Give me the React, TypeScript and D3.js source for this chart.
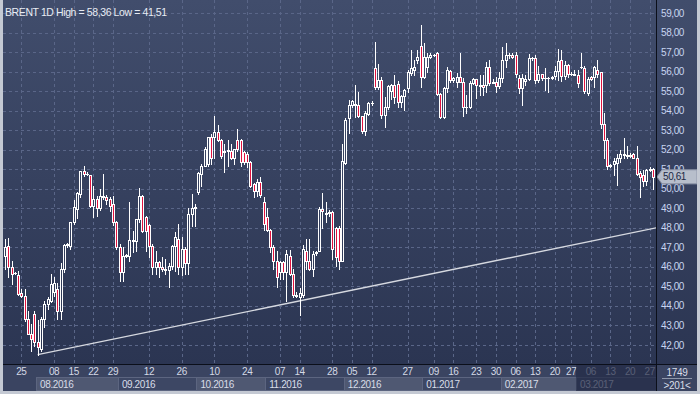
import React from "react";
import * as d3 from "d3";

// daily BRENT candles
const opens = [
  46.57, 47.05, 45.98, 45.7, 45.6, 44.65, 44.53, 43.33, 42.57, 43.59,
  42.17, 41.8, 43.33, 44.1, 44.27, 44.7, 44.87, 43.76, 45.9, 47.1,
  47.05, 48.28, 48.97, 49.73, 50.9, 50.76, 50.7, 49.14, 49.48, 49.02,
  49.6, 49.6, 49.48, 49.2, 48.28, 47.0, 45.72, 46.57, 46.57, 47.4,
  47.34, 48.45, 49.65, 48.54, 48.16, 47.09, 45.98, 46.27, 45.98, 45.9,
  45.86, 46.07, 47.09, 47.43, 45.98, 46.92, 46.18, 48.7, 49.0, 49.82,
  50.76, 51.18, 51.27, 52.63, 52.63, 52.89, 52.5, 51.9, 51.95, 51.92,
  51.6, 52.5, 52.5, 51.87, 51.78, 51.35, 50.25, 49.9, 50.36, 49.34,
  48.57, 47.9, 47.0, 46.32, 45.75, 46.24, 45.75, 46.58, 45.64, 44.55,
  44.47, 44.55, 46.83, 46.32, 45.9, 46.7, 46.83, 48.96, 48.7, 48.75,
  48.8, 48.0, 48.0, 46.32, 51.3, 53.64, 54.3, 54.3, 54.3, 53.72,
  52.97, 53.85, 54.4, 56.17, 55.2, 55.58, 53.77, 54.2, 55.0, 55.31,
  55.37, 54.46, 54.75, 55.14, 55.91, 56.08, 56.59, 57.31, 55.74, 56.25,
  56.76, 56.85, 56.97, 54.85, 53.66, 55.14, 56.05, 55.57, 55.48, 55.71,
  55.48, 54.17, 54.17, 55.43, 55.6, 55.26, 55.31, 55.31, 56.22, 55.43,
  55.48, 55.26, 55.66, 56.59, 56.85, 56.87, 56.85, 55.66, 55.14, 55.5,
  55.6, 56.68, 56.7, 55.57, 55.88, 55.65, 55.65, 55.68, 55.76, 56.04,
  56.6, 55.78, 56.35, 55.9, 55.9, 55.85, 56.23, 56.2, 54.9, 55.7,
  55.72, 56.1, 56.0, 53.3, 52.5, 51.15, 51.25, 51.3, 51.6, 51.75,
  51.7, 51.75, 51.8, 51.6, 50.8, 50.7, 50.4, 50.95, 51.0,
];
const highs = [
  47.43, 47.5, 46.3, 45.75, 45.8, 44.87, 44.87, 43.73, 43.08, 43.73,
  43.28, 43.42, 44.27, 44.44, 45.64, 45.5, 45.2, 46.2, 47.17, 47.2,
  48.28, 49.4, 49.82, 50.93, 51.18, 50.85, 50.71, 50.16, 49.65, 49.99,
  50.76, 49.7, 49.56, 49.65, 48.37, 47.17, 47.0, 46.65, 49.3, 47.85,
  48.45, 50.04, 49.7, 48.6, 48.2, 47.15, 46.83, 46.32, 46.5, 46.4,
  46.18, 47.12, 47.77, 48.2, 47.55, 47.0, 49.02, 49.73, 49.2, 50.84,
  51.27, 52.12, 52.66, 52.8, 53.74, 53.28, 52.55, 52.3, 52.5, 52.3,
  52.06, 53.06, 52.55, 51.95, 51.87, 51.4, 50.3, 50.5, 50.61, 49.6,
  49.0, 47.95, 47.1, 46.83, 46.32, 46.32, 46.85, 46.85, 45.9, 44.7,
  44.9, 47.1, 47.43, 47.43, 46.83, 46.83, 49.05, 49.8, 49.3, 48.9,
  48.88, 48.05, 48.1, 52.3, 53.64, 54.54, 54.54, 55.32, 54.97, 53.75,
  54.0, 54.45, 54.5, 57.5, 56.4, 55.7, 54.7, 55.3, 55.35, 55.83,
  55.5, 54.8, 55.1, 56.08, 57.1, 56.59, 57.1, 58.36, 57.48, 56.94,
  56.94, 56.9, 57.0, 54.9, 55.23, 56.25, 56.08, 55.74, 55.91, 56.94,
  55.66, 54.8, 55.5, 55.66, 55.62, 55.83, 55.83, 56.5, 56.59, 55.6,
  55.74, 56.0, 57.28, 57.45, 56.95, 56.95, 57.0, 55.83, 55.9, 55.8,
  56.9, 56.75, 56.85, 56.3, 55.9, 56.17, 55.7, 55.75, 56.3, 57.14,
  57.1, 56.55, 56.4, 56.0, 56.1, 56.1, 56.96, 56.3, 55.7, 55.75,
  56.3, 56.6, 56.0, 53.9, 52.6, 51.25, 51.6, 51.78, 52.0, 52.6,
  52.2, 51.85, 51.85, 52.2, 50.9, 50.95, 51.0, 51.1, 51.05,
];
const lows = [
  45.9, 45.47, 45.13, 45.65, 44.58, 44.44, 43.25, 42.55, 41.71, 41.97,
  41.51, 41.71, 42.9, 43.85, 44.2, 44.5, 43.33, 43.33, 45.72, 47.0,
  46.92, 48.2, 48.5, 49.56, 50.67, 50.68, 49.05, 48.54, 48.62, 48.9,
  49.5, 49.2, 48.88, 48.16, 46.92, 45.3, 45.3, 46.5, 46.3, 46.75,
  46.83, 48.28, 47.77, 46.83, 46.5, 45.64, 45.64, 45.47, 45.8, 45.64,
  44.99, 45.9, 45.81, 45.64, 45.6, 45.64, 45.64, 48.11, 48.11, 49.73,
  50.16, 51.15, 51.18, 51.27, 51.6, 52.46, 51.6, 50.84, 51.18, 51.5,
  51.27, 51.95, 51.18, 51.27, 51.1, 50.07, 49.56, 49.65, 49.6, 47.9,
  47.85, 46.75, 45.9, 44.99, 45.4, 45.4, 44.27, 45.6, 44.44, 44.44,
  43.54, 44.47, 45.9, 45.85, 45.55, 46.6, 46.8, 48.0, 48.3, 48.6,
  46.4, 46.07, 45.9, 46.3, 51.25, 52.83, 54.2, 53.7, 53.67, 52.83,
  52.75, 53.8, 54.3, 55.1, 55.1, 53.6, 53.15, 54.06, 54.6, 54.38,
  54.2, 54.2, 54.03, 54.97, 55.85, 55.83, 56.42, 55.23, 55.66, 56.0,
  56.7, 56.8, 54.8, 53.61, 53.61, 54.97, 55.48, 55.48, 55.23, 55.46,
  53.73, 53.86, 54.15, 55.35, 54.63, 54.8, 54.8, 54.97, 55.31, 55.4,
  54.97, 55.14, 55.48, 56.25, 56.7, 56.7, 55.74, 54.89, 54.28, 55.3,
  55.57, 56.6, 55.4, 55.47, 55.55, 55.07, 54.93, 55.6, 55.62, 55.55,
  55.5, 55.6, 55.7, 55.8, 55.8, 55.2, 56.2, 54.9, 54.8, 55.55,
  55.2, 55.7, 53.1, 51.6, 51.0, 51.1, 50.7, 50.2, 51.35, 51.6,
  51.6, 51.65, 51.55, 50.7, 49.6, 50.13, 50.2, 50.9, 50.0,
];
const closes = [
  47.0, 45.98, 45.64, 45.69, 44.6, 44.53, 43.33, 42.57, 42.31, 42.14,
  41.92, 43.33, 44.1, 44.36, 45.13, 45.2, 43.76, 45.9, 47.14, 47.17,
  48.28, 49.05, 49.77, 50.9, 50.76, 50.74, 49.14, 49.48, 49.02, 49.65,
  49.65, 49.4, 49.14, 48.28, 47.0, 45.72, 46.57, 46.6, 47.4, 47.3,
  48.45, 49.65, 47.85, 47.82, 47.09, 45.98, 46.27, 45.98, 45.9, 45.86,
  46.07, 47.09, 47.52, 45.98, 46.92, 46.18, 48.7, 49.02, 49.05, 50.79,
  51.18, 52.04, 52.63, 51.6, 52.89, 52.5, 51.7, 51.95, 51.97, 51.6,
  52.04, 52.04, 51.35, 51.35, 51.35, 50.16, 49.9, 50.33, 49.68, 48.2,
  47.9, 47.0, 46.32, 45.47, 46.24, 45.75, 46.66, 45.64, 44.54, 44.5,
  44.65, 46.92, 46.32, 45.9, 46.66, 46.75, 48.96, 48.88, 48.75, 48.8,
  46.92, 46.5, 46.32, 51.44, 53.5, 54.3, 54.5, 54.33, 53.72, 52.97,
  53.9, 54.38, 54.38, 55.19, 55.58, 53.77, 54.2, 55.26, 55.31, 54.68,
  54.46, 54.75, 55.06, 56.0, 56.17, 56.22, 56.76, 55.74, 56.76, 56.76,
  56.85, 56.86, 54.85, 53.66, 55.14, 56.08, 55.57, 55.66, 55.71, 55.48,
  54.17, 54.2, 55.43, 55.6, 55.3, 55.31, 55.23, 56.22, 55.43, 55.48,
  55.26, 55.66, 56.59, 56.85, 56.87, 56.76, 55.88, 55.14, 55.65, 55.6,
  56.68, 56.7, 55.57, 55.89, 55.66, 55.68, 55.68, 55.7, 56.04, 56.56,
  55.76, 56.35, 55.9, 55.88, 55.85, 55.44, 56.26, 55.0, 55.6, 55.6,
  56.23, 55.9, 53.3, 52.5, 51.17, 51.2, 51.4, 51.6, 51.8, 51.8,
  51.75, 51.7, 51.6, 50.75, 50.6, 50.4, 50.95, 51.0, 50.61,
];

const priceTicks = [42, 43, 44, 45, 46, 47, 48, 49, 50, 51, 52, 53, 54, 55, 56, 57, 58, 59];

// week labels and the bar each one sits on
const dayTickLabels = ["25", "08", "15", "22", "29", "12", "26", "10", "24", "07", "14", "28", "05", "12", "27", "09", "16", "23", "30", "06", "13", "20", "27", "06", "13", "20", "27"];
const dayTickBars = [5, 15, 21, 27, 33, 44, 54, 64, 74, 84, 90, 100, 106, 112, 123, 131, 137, 144, 150, 156, 162, 168, 173, 179, 185, 191, 197];

const monthLabels = ["08.2016", "09.2016", "10.2016", "11.2016", "12.2016", "01.2017", "02.2017", "03.2017"];
const monthStartBars = [10, 35, 59, 80, 104, 128, 152, 175];

// support line drawn from the August low
const trendBars = [10, 199];
const trendPrices = [41.51, 48.0];

const lastPrice = 50.61;
const title = "BRENT 1D High = 58,36 Low = 41,51";
const counterTop = "1749";
const counterBottom = ">201<";

const W = 700;
const H = 394;
const plotLeft = 3;
const plotRight = 656;
const axisTop = 364;
const axisBottom = 391;
const FONT = "'Liberation Sans', Arial, sans-serif";
const RED = "#e0123e";

const fmt = (v: number) => v.toFixed(2).replace(".", ",");

const App = () => {
  const n = closes.length;
  const x = d3.scaleLinear().domain([0, n - 1]).range([5, 653]);
  const y = d3.scaleLinear().domain([42, 59]).range([345, 13]);
  const step = x(1) - x(0);

  const candles = d3.range(n).map((i) => {
    const o = opens[i], c = closes[i];
    const cx = Math.round(x(i));
    const top = Math.round(y(Math.max(o, c)));
    const bot = Math.round(y(Math.min(o, c)));
    const hi = Math.round(y(Math.max(highs[i], o, c)));
    const lo = Math.round(y(Math.min(lows[i], o, c)));
    const up = c >= o;
    return (
      <g key={i}>
        {hi < top && <line x1={cx + 0.5} x2={cx + 0.5} y1={hi} y2={top} stroke="#fff" />}
        {lo > bot && <line x1={cx + 0.5} x2={cx + 0.5} y1={bot + 1} y2={lo + 1} stroke="#fff" />}
        {bot - top >= 1 ? (
          <rect x={cx - 0.5} y={top + 0.5} width={2} height={bot - top} fill={up ? "url(#bg)" : RED} stroke="#fff" />
        ) : (
          <line x1={cx - 1} x2={cx + 2} y1={top + 0.5} y2={top + 0.5} stroke="#fff" />
        )}
      </g>
    );
  });

  const yp = y(lastPrice);

  return (
    <svg width={W} height={H} style={{ position: "fixed", left: 0, top: 0, display: "block" }} fontFamily={FONT}>
      <defs>
        <linearGradient id="bg" gradientUnits="userSpaceOnUse" x1={0} y1={0} x2={0} y2={axisTop}>
          <stop offset="0" stopColor="#414d6c" />
          <stop offset="1" stopColor="#2b3552" />
        </linearGradient>
        <clipPath id="plot">
          <rect x={plotLeft} y={0} width={plotRight - plotLeft} height={axisTop} />
        </clipPath>
      </defs>

      <rect x={0} y={0} width={W} height={H} fill="url(#bg)" />

      {/* grid */}
      <g stroke="#5a6688" strokeDasharray="3,3" strokeWidth={1}>
        {priceTicks.map((p) => (
          <line key={p} x1={plotLeft} x2={plotRight} y1={Math.round(y(p)) + 0.5} y2={Math.round(y(p)) + 0.5} />
        ))}
        {dayTickBars.map((b, i) => (
          <line key={i} x1={Math.round(x(b)) + 0.5} x2={Math.round(x(b)) + 0.5} y1={0} y2={axisTop} />
        ))}
      </g>

      <g clipPath="url(#plot)">
        <line
          x1={x(trendBars[0])}
          y1={y(trendPrices[0])}
          x2={x(trendBars[1])}
          y2={y(trendPrices[1])}
          stroke="#d6d9e0"
          strokeWidth={1.4}
        />
        {candles}
      </g>

      <text x={5} y={16} fill="#e8ecf4" fontSize={10.5} letterSpacing={-0.4}>
        {title}
      </text>

      {/* price axis */}
      {priceTicks.map((p) => (
        <text key={p} x={661} y={y(p)} dy="0.35em" fill="#c8d4f0" fontSize={10} letterSpacing={-0.4}>
          {fmt(p)}
        </text>
      ))}
      <path
        d={`M${plotRight + 1},${yp} L${662},${yp - 7} L${697},${yp - 7} L${697},${yp + 7} L${662},${yp + 7} Z`}
        fill="#b7becb"
        stroke="#8e97aa"
      />
      <text x={663} y={yp} dy="0.36em" fill="#1c2744" fontSize={10} letterSpacing={-0.4}>
        {fmt(lastPrice)}
      </text>

      {/* time axis */}
      <rect x={plotLeft} y={axisTop} width={W - plotLeft} height={axisBottom - axisTop} fill="#3a4461" />
      {monthLabels.map((m, i) => {
        const x0 = x(monthStartBars[i]) - step / 2;
        const x1 = i + 1 < monthLabels.length ? x(monthStartBars[i + 1]) - step / 2 : plotRight;
        return (
          <g key={m}>
            <rect
              x={Math.round(x0) + 0.5}
              y={377.5}
              width={Math.round(x1) - Math.round(x0)}
              height={13}
              fill={i % 2 === 0 ? "#4f5872" : "#3d4764"}
              stroke="#5c6580"
            />
            <text x={x0 + 4} y={384} dy="0.35em" fill="#d8dde8" fontSize={10} letterSpacing={-0.4}>
              {m}
            </text>
          </g>
        );
      })}
      {dayTickLabels.map((d, i) => (
        <text key={i} x={x(dayTickBars[i])} y={371.5} dy="0.35em" textAnchor="middle" fill="#d4d9e5" fontSize={10} letterSpacing={-0.4}>
          {d}
        </text>
      ))}
      <rect
        x={x(monthStartBars[monthStartBars.length - 1]) - step / 2}
        y={axisTop}
        width={plotRight - (x(monthStartBars[monthStartBars.length - 1]) - step / 2)}
        height={axisBottom - axisTop}
        fill="#222a44"
        opacity={0.7}
      />

      {/* corner counter */}
      <rect x={plotRight} y={axisTop} width={W - plotRight} height={axisBottom - axisTop} fill="#3a4461" />
      <text x={677} y={372} dy="0.35em" textAnchor="middle" fill="#d8dde8" fontSize={10} letterSpacing={-0.3}>
        {counterTop}
      </text>
      <line x1={662} x2={692} y1={378.5} y2={378.5} stroke="#8e97aa" />
      <text x={677} y={385} dy="0.35em" textAnchor="middle" fill="#d8dde8" fontSize={10} letterSpacing={-0.3}>
        {counterBottom}
      </text>

      {/* separators and frame */}
      <line x1={plotLeft} x2={W} y1={axisTop + 0.5} y2={axisTop + 0.5} stroke="#0b0f1a" />
      <line x1={plotRight + 0.5} x2={plotRight + 0.5} y1={0} y2={axisBottom} stroke="#0b0f1a" />
      <rect x={0} y={0} width={plotLeft} height={H} fill="#c4c9d3" />
      <rect x={0} y={axisBottom} width={W} height={H - axisBottom} fill="#c4c9d3" />
      <rect x={W - 3} y={0} width={3} height={H} fill="#c4c9d3" />
    </svg>
  );
};

export default App;
